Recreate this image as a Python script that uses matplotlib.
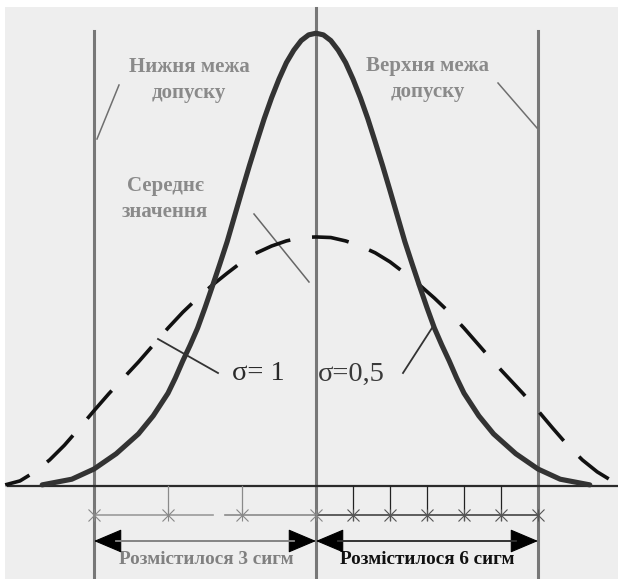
import matplotlib
matplotlib.use("Agg")
import matplotlib.pyplot as plt
from matplotlib.patches import Rectangle, FancyArrowPatch

# ---------------- data (x in units of sigma=1, y in density-like units) ----------------
solid_x = [-3.7, -3.3, -3.0, -2.7, -2.4, -2.2, -2.0, -1.9, -1.8, -1.7, -1.6, -1.5, -1.4,
           -1.3, -1.2, -1.1, -1.0, -0.9, -0.8, -0.7, -0.6, -0.5, -0.4, -0.3, -0.2, -0.1,
           0.0, 0.1, 0.2, 0.3, 0.4, 0.5, 0.6, 0.7, 0.8, 0.9, 1.0, 1.1, 1.2, 1.3, 1.4, 1.5,
           1.6, 1.7, 1.8, 1.9, 2.0, 2.2, 2.4, 2.7, 3.0, 3.3, 3.7]
solid_y = [0.002, 0.012, 0.030, 0.057, 0.092, 0.124, 0.164, 0.191, 0.221, 0.249, 0.279,
           0.315, 0.353, 0.392, 0.432, 0.477, 0.522, 0.566, 0.608, 0.649, 0.686, 0.719,
           0.748, 0.770, 0.787, 0.797, 0.800, 0.797, 0.787, 0.770, 0.748, 0.719, 0.686,
           0.649, 0.608, 0.566, 0.522, 0.477, 0.432, 0.392, 0.353, 0.315, 0.279, 0.249,
           0.221, 0.191, 0.164, 0.124, 0.092, 0.057, 0.030, 0.012, 0.002]

dashed_x = [-4.2, -4.0, -3.8, -3.6, -3.4, -3.2, -3.0, -2.8, -2.6, -2.4, -2.2, -2.0, -1.8,
            -1.6, -1.4, -1.2, -1.0, -0.8, -0.6, -0.4, -0.2, 0.0, 0.2, 0.4, 0.6, 0.8, 1.0,
            1.2, 1.4, 1.6, 1.8, 2.0, 2.2, 2.4, 2.6, 2.8, 3.0, 3.2, 3.4, 3.6, 3.8, 4.0, 4.2]
dashed_y = [0.002, 0.009, 0.025, 0.046, 0.072, 0.102, 0.133, 0.163, 0.191, 0.219, 0.249,
            0.279, 0.307, 0.332, 0.355, 0.376, 0.396, 0.412, 0.424, 0.433, 0.439, 0.440,
            0.439, 0.433, 0.424, 0.412, 0.396, 0.376, 0.355, 0.332, 0.307, 0.279, 0.249,
            0.219, 0.191, 0.163, 0.133, 0.102, 0.072, 0.046, 0.025, 0.009, 0.002]

mean_value = 0.0
lower_limit = -3.0
upper_limit = 3.0
ticks_left = [-3, -2, -1, 0]
ticks_right = [0.5, 1.0, 1.5, 2.0, 2.5, 3.0]

label_lower = "Нижня межа\nдопуску"
label_upper = "Верхня межа\nдопуску"
label_mean = "Середнє\nзначення"
label_sigma1 = "σ= 1"
label_sigma05 = "σ=0,5"
label_span3 = "Розмістилося 3 сигм"
label_span6 = "Розмістилося 6 сигм"

# ---------------- layout helpers (pixel -> data) ----------------
W, H = 618, 579
X0, SX = 316, 74.0
Y0, SY = 486, 566.0


def P(px, py):
    return ((px - X0) / SX, (Y0 - py) / SY)


def Yp(py):
    return (Y0 - py) / SY


fig = plt.figure(figsize=(W / 100, H / 100), dpi=100)
fig.patch.set_facecolor("white")
ax = fig.add_axes([0, 0, 1, 1])
ax.set_facecolor("none")
ax.set_xlim(-X0 / SX, (W - X0) / SX)
ax.set_ylim(-(H - Y0) / SY, Y0 / SY)
ax.axis("off")

# grey canvas (white margin on top and left)
ax.add_patch(Rectangle(P(5, H + 5), (W + 10 - 5) / SX, (H + 5 - 7) / SY,
                       facecolor="#eeeeee", edgecolor="none", zorder=0))

# vertical lines
vcol = "#777777"
ax.plot([mean_value, mean_value], [Yp(8), Yp(H + 5)], color=vcol, lw=2.2, zorder=2)
for v in (lower_limit, upper_limit):
    ax.plot([v, v], [Yp(31), Yp(H + 5)], color=vcol, lw=2.2, zorder=2)

# baseline
ax.plot([P(8, 0)[0], P(W + 5, 0)[0]], [0, 0], color="#2a2a2a", lw=1.6, zorder=3)

# curves
ax.plot(solid_x, solid_y, color="#333333", lw=3.7, solid_capstyle="round",
        solid_joinstyle="round", zorder=5)
ax.plot(dashed_x, dashed_y, color="#111111", lw=2.6, linestyle=(3.0, (10.3, 6.1)),
        dash_capstyle="butt", zorder=4)

# tick marks below baseline
y_row = Yp(515)
for t in ticks_left[1:3]:
    ax.plot([t, t], [0, y_row], color="#8a8a8a", lw=0.9, zorder=3)
for t in ticks_right[:-1]:
    ax.plot([t, t], [0, Yp(520)], color="#222222", lw=0.9, zorder=3)

# horizontal row with star markers
ax.plot([ticks_left[0], P(213, 0)[0]], [y_row, y_row], color="#9a9a9a", lw=1.2, zorder=3)
ax.plot([P(225, 0)[0], ticks_left[-1]], [y_row, y_row], color="#8a8a8a", lw=1.2, zorder=3)
ax.plot([ticks_right[0] - 0.5, ticks_right[-1]], [y_row, y_row], color="#444444", lw=1.2, zorder=3)
for tl, c in ((ticks_left, "#888888"), (ticks_right, "#555555")):
    ax.plot(tl, [y_row] * len(tl), linestyle="none", marker="x", markersize=8,
            markeredgewidth=0.8, color=c, zorder=4)
    ax.plot(tl, [y_row] * len(tl), linestyle="none", marker="|", markersize=9,
            markeredgewidth=0.8, color=c, zorder=4)

# double arrows
y_arr = Yp(541)
for (a, b), sc in (((lower_limit, mean_value), "#8a8a8a"), ((mean_value, upper_limit), "#333333")):
    arr = FancyArrowPatch((a, y_arr), (b, y_arr),
                          arrowstyle="<|-|>,head_length=1.3,head_width=0.55",
                          mutation_scale=14, color="black", lw=0.8,
                          shrinkA=0, shrinkB=0, zorder=4)
    ax.add_patch(arr)
    ax.plot([a + 0.3, b - 0.3], [y_arr, y_arr], color=sc, lw=1.3, zorder=5)

# leader lines
lcol = "#6f6f6f"
for (x1, y1), (x2, y2), c, lw in (((97, 139), (119, 85), lcol, 1.1),
                                   ((498, 83), (537, 128), lcol, 1.1),
                                   ((254, 214), (309, 282), "#666666", 1.1),
                                   ((158, 339), (218, 373), "#333333", 1.3),
                                   ((403, 373), (432, 328), "#333333", 1.3)):
    p1, p2 = P(x1, y1), P(x2, y2)
    ax.plot([p1[0], p2[0]], [p1[1], p2[1]], color=c, lw=lw, zorder=3)

# labels
gray_txt = "#8a8a8a"
bold_serif = dict(family=["Liberation Serif", "DejaVu Serif"], fontweight="bold")
ax.text(*P(189, 80), label_lower, color=gray_txt, fontsize=15, ha="center", va="center",
        linespacing=1.35, **bold_serif)
ax.text(*P(428, 79), label_upper, color=gray_txt, fontsize=15, ha="center", va="center",
        linespacing=1.35, **bold_serif)
ax.text(*P(165, 199), label_mean, color=gray_txt, fontsize=15, ha="center", va="center",
        linespacing=1.35, **bold_serif)

ax.text(*P(232, 374), label_sigma1, color="#2a2a2a", fontsize=20.5, ha="left", va="center",
        family=["Liberation Serif", "DejaVu Serif"])
ax.text(*P(318, 374), label_sigma05, color="#3a3a3a", fontsize=20.5, ha="left", va="center",
        family=["Liberation Serif", "DejaVu Serif"])

ax.text(*P(206, 560), label_span3, color="#808080", fontsize=13.8, ha="center", va="center",
        **bold_serif)
ax.text(*P(427, 560), label_span6, color="#111111", fontsize=13.8, ha="center", va="center",
        **bold_serif)

fig.savefig("out.png", dpi=100, facecolor="white")
